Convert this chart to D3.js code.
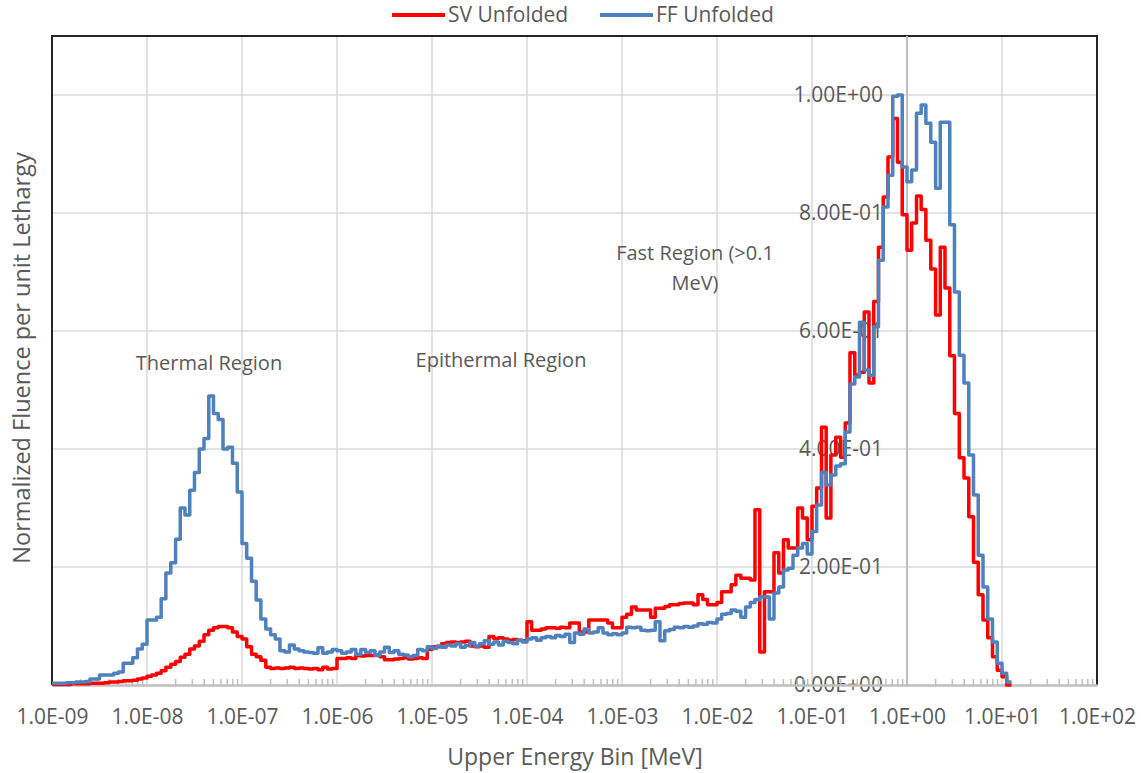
<!DOCTYPE html>
<html>
<head>
<meta charset="utf-8">
<script src="https://cdn.jsdelivr.net/npm/d3@7"></script>
<style>
  body { margin: 0; background: #fff; }
  text { font-family: "Open Sans", sans-serif; fill: #595959; }
</style>
</head>
<body>
<svg id="chart" width="1141" height="773"></svg>
<script>
// bin structure: 20 upper edges per decade
let decadeStarts = [1e-9, 1e-8, 1e-7, 1e-6, 1e-5, 1e-4, 1e-3, 1e-2, 1e-1, 1e0, 1e1];
let binMantissas = [1.12, 1.26, 1.41, 1.58, 1.78, 2.00, 2.24, 2.51, 2.82, 3.16,
                    3.55, 3.98, 4.47, 5.01, 5.62, 6.31, 7.08, 7.94, 8.91, 10.0];

let xTickValues = [1e-9, 1e-8, 1e-7, 1e-6, 1e-5, 1e-4, 1e-3, 1e-2, 1e-1, 1e0, 1e1, 1e2];
let xTickLabels = ["1.0E-09", "1.0E-08", "1.0E-07", "1.0E-06", "1.0E-05", "1.0E-04",
                   "1.0E-03", "1.0E-02", "1.0E-01", "1.0E+00", "1.0E+01", "1.0E+02"];
let yTickValues = [0, 0.2, 0.4, 0.6, 0.8, 1.0];
let yTickLabels = ["0.00E+00", "2.00E-01", "4.00E-01", "6.00E-01", "8.00E-01", "1.00E+00"];

let seriesNames = ["SV Unfolded", "FF Unfolded"];
let seriesColors = ["#ff0000", "#4f81bd"];

// SV unfolded, one value per bin
let svValues = [
  0.001,0.001,0.001,0.001,0.002,0.002,0.002,0.002,0.003,0.003,0.003,0.004,0.005,0.005,0.006,0.007,0.007,0.008,0.010,0.012,
  0.015,0.017,0.020,0.024,0.030,0.035,0.040,0.047,0.052,0.061,0.066,0.074,0.085,0.093,0.097,0.099,0.099,0.097,0.090,0.082,
  0.078,0.065,0.052,0.048,0.042,0.030,0.028,0.029,0.028,0.029,0.030,0.028,0.029,0.028,0.027,0.028,0.026,0.030,0.027,0.028,
  0.045,0.045,0.046,0.045,0.050,0.049,0.050,0.050,0.051,0.048,0.043,0.043,0.044,0.045,0.046,0.044,0.045,0.046,0.045,0.060,
  0.065,0.065,0.070,0.072,0.073,0.072,0.073,0.074,0.066,0.065,0.066,0.064,0.082,0.079,0.080,0.078,0.076,0.077,0.076,0.075,
  0.107,0.093,0.093,0.095,0.097,0.097,0.096,0.098,0.097,0.105,0.105,0.090,0.090,0.110,0.110,0.110,0.110,0.105,0.097,0.097,
  0.115,0.120,0.132,0.127,0.127,0.127,0.115,0.130,0.130,0.133,0.136,0.136,0.138,0.139,0.139,0.136,0.153,0.145,0.136,0.136,
  0.140,0.158,0.158,0.170,0.186,0.181,0.181,0.178,0.297,0.056,0.158,0.158,0.224,0.190,0.246,0.232,0.232,0.300,0.283,0.246,
  0.303,0.334,0.437,0.283,0.390,0.420,0.386,0.444,0.563,0.525,0.530,0.632,0.512,0.650,0.742,0.827,0.895,0.960,0.886,0.797,
  0.737,0.783,0.829,0.806,0.754,0.705,0.627,0.742,0.673,0.558,0.460,0.385,0.351,0.285,0.208,0.153,0.110,0.080,0.048,0.025,
  0.014,0.000
];

// FF unfolded
let ffValues = [
  0.003,0.003,0.003,0.004,0.004,0.005,0.005,0.006,0.010,0.010,0.017,0.017,0.017,0.020,0.022,0.037,0.037,0.046,0.061,0.069,
  0.110,0.110,0.115,0.146,0.190,0.207,0.247,0.300,0.288,0.330,0.360,0.400,0.418,0.490,0.460,0.450,0.400,0.403,0.376,0.327,
  0.240,0.215,0.176,0.144,0.112,0.095,0.085,0.078,0.058,0.056,0.068,0.061,0.058,0.056,0.055,0.054,0.063,0.054,0.056,0.060,
  0.058,0.054,0.056,0.060,0.052,0.060,0.055,0.058,0.050,0.056,0.064,0.055,0.058,0.052,0.051,0.048,0.050,0.060,0.058,0.065,
  0.062,0.066,0.064,0.068,0.066,0.070,0.064,0.067,0.072,0.066,0.070,0.075,0.069,0.073,0.068,0.074,0.072,0.070,0.076,0.073,
  0.078,0.080,0.076,0.080,0.082,0.080,0.084,0.082,0.086,0.072,0.088,0.086,0.095,0.088,0.090,0.097,0.088,0.085,0.087,0.085,
  0.088,0.098,0.097,0.098,0.093,0.092,0.093,0.107,0.075,0.092,0.094,0.098,0.097,0.099,0.098,0.100,0.104,0.103,0.106,0.105,
  0.112,0.120,0.121,0.127,0.125,0.115,0.132,0.140,0.145,0.149,0.149,0.112,0.156,0.166,0.195,0.198,0.220,0.232,0.240,0.222,
  0.260,0.305,0.360,0.339,0.356,0.371,0.375,0.429,0.510,0.522,0.615,0.534,0.525,0.607,0.720,0.810,0.864,0.998,1.000,0.878,
  0.853,0.873,0.969,0.983,0.952,0.920,0.842,0.954,0.954,0.780,0.666,0.559,0.512,0.390,0.322,0.220,0.166,0.112,0.073,0.037,
  0.020,0.005
];

let upperEnergy = decadeStarts.flatMap(d => binMantissas.map(m => m * d)).slice(0, svValues.length);

let svg = d3.select("#chart");
let plotLeft = 52, plotRight = 1097, plotTop = 36, plotBottom = 685;

let x = d3.scaleLog().domain([1e-9, 1e2]).range([plotLeft, plotRight]);
let y = d3.scaleLinear().domain([0, 1.1]).range([plotBottom, plotTop]);

// gridlines
svg.append("g").selectAll("line")
  .data(yTickValues.slice(1))
  .enter().append("line")
  .attr("x1", plotLeft).attr("x2", plotRight)
  .attr("y1", d => y(d)).attr("y2", d => y(d))
  .attr("stroke", "#d9d9d9").attr("stroke-width", 1.5);

svg.append("g").selectAll("line")
  .data(xTickValues.slice(1, -1))
  .enter().append("line")
  .attr("x1", d => x(d)).attr("x2", d => x(d))
  .attr("y1", plotTop).attr("y2", plotBottom)
  .attr("stroke", "#d9d9d9").attr("stroke-width", 1.5);

// plot frame (left / top / right)
svg.append("path")
  .attr("d", `M${plotLeft},${plotBottom}V${plotTop}H${plotRight}V${plotBottom}`)
  .attr("fill", "none").attr("stroke", "#262626").attr("stroke-width", 2);

// vertical axis crosses at 1 MeV
let yAxis = d3.axisLeft(y)
  .tickValues(yTickValues)
  .tickSize(0)
  .tickPadding(24)
  .tickFormat((d, i) => yTickLabels[i]);
let yg = svg.append("g").attr("transform", `translate(${x(1)},0)`).call(yAxis);
yg.select(".domain").attr("stroke", "#bfbfbf").attr("stroke-width", 2)
  .attr("d", `M0,${plotTop}V${plotBottom}`);
yg.selectAll("text").style("font-size", "21px").style("font-family", "Open Sans").attr("fill", "#595959");

// horizontal axis
let xAxis = d3.axisBottom(x)
  .tickValues(xTickValues)
  .tickSize(0)
  .tickPadding(24)
  .tickFormat((d, i) => xTickLabels[i]);
let xg = svg.append("g").attr("transform", `translate(0,${plotBottom})`).call(xAxis);
xg.select(".domain").attr("stroke", "#bfbfbf").attr("stroke-width", 2.5);
xg.selectAll("text").style("font-size", "21px").style("font-family", "Open Sans").attr("fill", "#595959");

// minor log ticks pointing up
let minorTicks = decadeStarts.flatMap(d => [2, 3, 4, 5, 6, 7, 8, 9].map(m => m * d));
svg.append("g").selectAll("line")
  .data(minorTicks)
  .enter().append("line")
  .attr("x1", d => x(d)).attr("x2", d => x(d))
  .attr("y1", plotBottom).attr("y2", plotBottom - 6)
  .attr("stroke", "#bfbfbf").attr("stroke-width", 1.5);

// step lines, each value drawn over its bin (upper edge)
let stepLine = d3.line()
  .x(d => x(d.e))
  .y(d => y(d.v))
  .curve(d3.curveStepBefore);

[svValues, ffValues].forEach(function (vals, s) {
  let pts = [{e: 1e-9, v: vals[0]}];
  vals.forEach((v, i) => pts.push({e: upperEnergy[i], v: v}));
  svg.append("path")
    .datum(pts)
    .attr("d", stepLine)
    .attr("fill", "none")
    .attr("stroke", seriesColors[s])
    .attr("stroke-width", 3.5)
    .attr("stroke-linejoin", "round");
});

// annotations
let notes = [
  {t: "Thermal Region", x: 209, y: 363},
  {t: "Epithermal Region", x: 501, y: 360},
  {t: "Fast Region (>0.1", x: 695, y: 253},
  {t: "MeV)", x: 695, y: 283}
];
svg.append("g").selectAll("text")
  .data(notes)
  .enter().append("text")
  .attr("x", d => d.x).attr("y", d => d.y)
  .attr("text-anchor", "middle")
  .attr("dy", "0.35em")
  .style("font-size", "20px")
  .text(d => d.t);

// axis titles
svg.append("text")
  .attr("x", 575).attr("y", 757).attr("dy", "0.35em")
  .attr("text-anchor", "middle")
  .style("font-size", "23px")
  .text("Upper Energy Bin [MeV]");

svg.append("text")
  .attr("transform", "translate(22,358) rotate(-90)")
  .attr("dy", "0.35em")
  .attr("text-anchor", "middle")
  .style("font-size", "23.5px")
  .text("Normalized Fluence per unit Lethargy");

// legend
let legendX = [392, 600];
let lg = svg.append("g").selectAll("g")
  .data(seriesNames)
  .enter().append("g")
  .attr("transform", (d, i) => `translate(${legendX[i]},15)`);
lg.append("line")
  .attr("x1", 0).attr("x2", 53)
  .attr("stroke", (d, i) => seriesColors[i])
  .attr("stroke-width", 4);
lg.append("text")
  .attr("x", 56).attr("dy", "0.35em")
  .style("font-size", "21px")
  .text(d => d);
</script>
</body>
</html>
